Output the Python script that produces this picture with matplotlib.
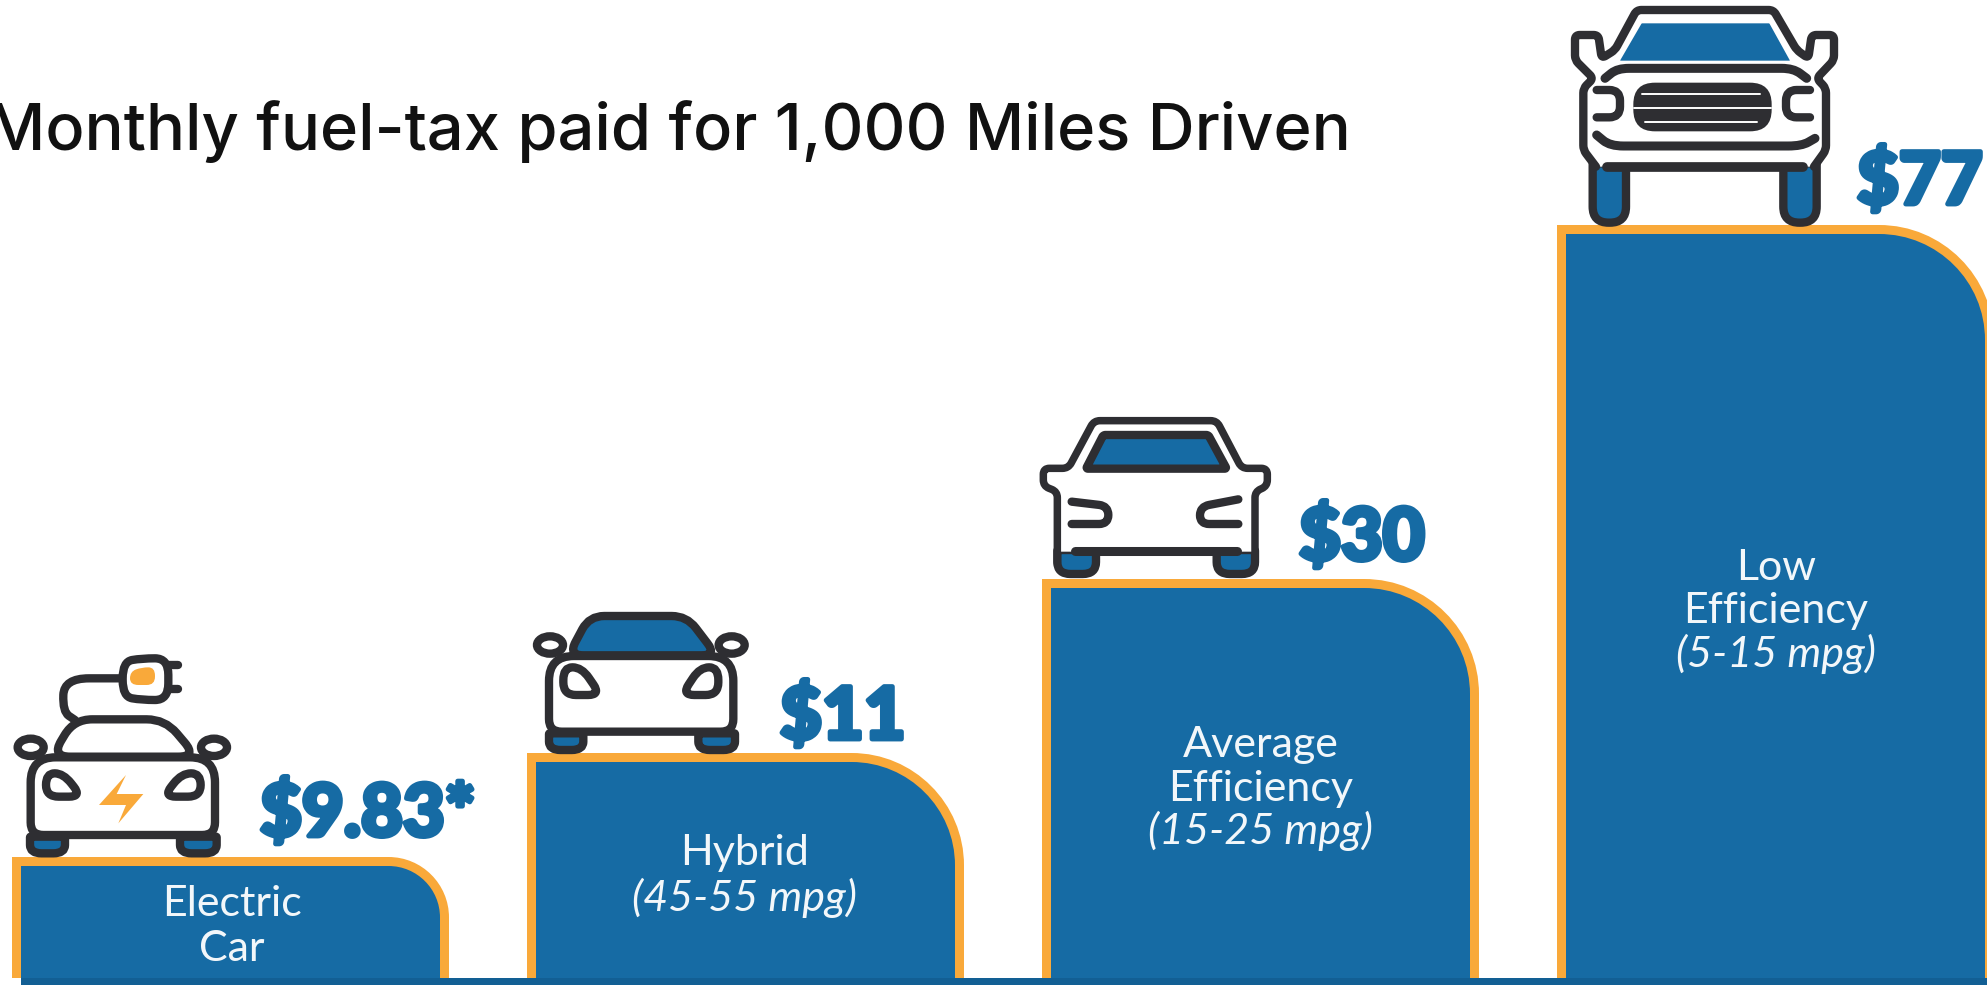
import matplotlib
matplotlib.use("Agg")
import matplotlib.pyplot as plt
import matplotlib.patheffects as pe
from matplotlib.path import Path
from matplotlib.patches import PathPatch, Rectangle, Ellipse
from matplotlib.transforms import Affine2D

# Data
categories = ["Electric Car", "Hybrid", "Average Efficiency", "Low Efficiency"]
value_labels = ["$9.83*", "$11", "$30", "$77"]
bar_heights = [121, 225, 399, 753]  # drawn heights, the picture is not to scale
title = "Monthly fuel-tax paid for 1,000 Miles Driven"

BLUE = "#166BA4"
ORANGE = "#F9A93A"
DARK = "#2E2E32"
W, H = 1987, 985
BASE = 978

fig = plt.figure(figsize=(W / 100, H / 100), dpi=100, facecolor="white")
ax = fig.add_axes([0, 0, 1, 1])
ax.set_xlim(0, W)
ax.set_ylim(BASE - H, BASE)
ax.axis("off")


def rounded_path(pts, r=0, closed=True):
    """Polygon through pts with quadratic rounded corners. A point may be (x, y, r)."""
    n = len(pts)
    xy = [(p[0], p[1]) for p in pts]
    rad = [p[2] if len(p) > 2 else r for p in pts]
    verts, codes = [], []

    def corner(i):
        x, y = xy[i]
        x0, y0 = xy[(i - 1) % n]
        x1, y1 = xy[(i + 1) % n]
        d0 = max(((x0 - x) ** 2 + (y0 - y) ** 2) ** 0.5, 1e-6)
        d1 = max(((x1 - x) ** 2 + (y1 - y) ** 2) ** 0.5, 1e-6)
        r0 = min(rad[i], d0 / 2)
        r1 = min(rad[i], d1 / 2)
        return (x + (x0 - x) * r0 / d0, y + (y0 - y) * r0 / d0), (x, y), (x + (x1 - x) * r1 / d1, y + (y1 - y) * r1 / d1)

    if closed:
        a, b, c = corner(0)
        verts += [a, b, c]
        codes += [Path.MOVETO, Path.CURVE3, Path.CURVE3]
        for i in range(1, n):
            a, b, c = corner(i)
            verts += [a, b, c]
            codes += [Path.LINETO, Path.CURVE3, Path.CURVE3]
        verts.append(verts[0])
        codes.append(Path.CLOSEPOLY)
    else:
        verts.append(xy[0])
        codes.append(Path.MOVETO)
        for i in range(1, n - 1):
            a, b, c = corner(i)
            verts += [a, b, c]
            codes += [Path.LINETO, Path.CURVE3, Path.CURVE3]
        verts.append(xy[-1])
        codes.append(Path.LINETO)
    return Path(verts, codes)


def draw_bar(left, width, height):
    rad = min(115, height / 2)
    for inset, col in [(0, ORANGE), (9, BLUE)]:
        x0, x1 = left + inset, left + width - inset
        top = height - inset
        r = rad - inset
        k = 0.5523 * r
        v = [(x0, 0), (x0, top), (x1 - r, top), (x1 - r + k, top), (x1, top - r + k), (x1, top - r), (x1, 0), (x0, 0)]
        c = [Path.MOVETO, Path.LINETO, Path.LINETO, Path.CURVE4, Path.CURVE4, Path.CURVE4, Path.LINETO, Path.CLOSEPOLY]
        ax.add_patch(PathPatch(Path(v, c), fc=col, ec="none", zorder=2))


class Icon:
    """Draws in the coordinates of a 3x crop whose corner sits at (ox, oy) in the image."""

    def __init__(self, ox, oy):
        self.tr = Affine2D().scale(1 / 3, -1 / 3).translate(ox, BASE - oy) + ax.transData

    def shape(self, pts, r=0, fc="white", ec=DARK, lw=6.0, closed=True, z=4):
        p = PathPatch(rounded_path(pts, r, closed), fc=fc if closed else "none", ec=ec, lw=lw,
                      transform=self.tr, zorder=z, capstyle="round", joinstyle="round")
        ax.add_patch(p)

    def line(self, pts, r=0, lw=6.0, z=5, ec=DARK):
        self.shape(pts, r, closed=False, lw=lw, z=z, ec=ec)

    def oval(self, x, y, w, h, z=3):
        ax.add_patch(Ellipse((x, y), w, h, fc="white", ec=DARK, lw=6.0, transform=self.tr, zorder=z))


def wheel(ic, x0, x1, y0, y1, r=35):
    ic.shape([(x0, y0, 2), (x1, y0, 2), (x1, y1), (x0, y1)], r, fc=BLUE, z=3)


def electric_car(ic):
    ic.line([(225, 240), (188, 215), (192, 115), (370, 115)], 75, z=3)
    ic.shape([(505, 55), (425, 55), (368, 65), (368, 170), (425, 180), (505, 180)], 50, z=5)
    ic.shape([(465, 82), (425, 82), (390, 95), (390, 135), (465, 135)], 25, fc=ORANGE, ec="none", lw=0, z=6)
    ic.line([(505, 75), (535, 75)])
    ic.line([(505, 148), (535, 148)])
    ic.oval(92, 322, 78, 52)
    ic.oval(642, 322, 78, 52)
    ic.shape([(155, 350), (222, 238), (495, 238), (590, 350)], 55, z=3)
    wheel(ic, 90, 195, 590, 640)
    wheel(ic, 540, 650, 590, 640)
    ic.shape([(92, 585, 38), (92, 352, 75), (645, 352, 75), (645, 585, 38)], z=4)
    ic.shape([(138, 400), (190, 400), (245, 470), (138, 470)], 38, z=5)
    ic.shape([(602, 400), (545, 400), (490, 470), (602, 470)], 38, z=5)
    ic.shape([(378, 405), (350, 462), (430, 462), (355, 550), (378, 495), (297, 495)], fc=ORANGE, ec="none", lw=0, z=6)


def hybrid_car(ic):
    ic.oval(150, 165, 78, 52)
    ic.oval(695, 165, 78, 52)
    wheel(ic, 147, 250, 430, 480)
    wheel(ic, 595, 705, 430, 480)
    ic.shape([(205, 196), (268, 78), (560, 78), (650, 196)], 45, fc=BLUE, z=3)
    ic.shape([(147, 425, 38), (147, 198, 75), (700, 198, 75), (700, 425, 38)], z=4)
    ic.shape([(190, 232), (245, 232), (302, 315), (190, 315)], 38, z=5)
    ic.shape([(655, 232), (600, 232), (545, 315), (655, 315)], 38, z=5)


def average_car(ic):
    wheel(ic, 172, 288, 450, 522, 40)
    wheel(ic, 650, 765, 450, 522, 40)
    ic.shape([(172, 455, 2), (172, 275, 8), (130, 258, 10), (130, 205, 8), (205, 205, 20), (282, 62, 35),
              (650, 62, 35), (725, 205, 20), (802, 205, 8), (802, 258, 10), (765, 275, 8), (765, 455, 2)], z=4, ec="none", lw=0)
    ic.line([(172, 490), (172, 275), (130, 258), (130, 205), (205, 205), (282, 62), (650, 62), (725, 205),
             (802, 205), (802, 258), (765, 275), (765, 490)], 18, lw=5.4)
    ic.shape([(258, 206), (310, 105), (625, 105), (680, 206)], 6, fc=BLUE, z=5)
    ic.line([(215, 305), (325, 318), (325, 372), (215, 372)], 28)
    ic.line([(715, 298), (600, 320), (600, 372), (715, 372)], 28)
    ic.line([(225, 453), (710, 453)], lw=6.5)


def low_car(ic):
    wheel(ic, 188, 288, 490, 668, 48)
    wheel(ic, 760, 860, 490, 668, 48)
    outline = [(198, 500), (160, 450), (160, 265), (190, 235), (135, 180), (135, 105), (205, 105), (215, 175), (255, 150),
               (320, 30), (730, 30), (800, 150), (835, 175), (845, 105), (912, 105), (912, 180), (860, 235),
               (888, 265), (888, 450), (852, 500)]
    ic.shape(outline, 10, z=4, ec="none", lw=0)
    ic.line(outline, 14, lw=6.0)
    ic.shape([(335, 70), (718, 70), (780, 182), (270, 182)], 2, fc=BLUE, ec="none", lw=0, z=5)
    ic.line([(225, 235), (262, 205), (790, 205), (830, 235)], 35, lw=6.5)
    ic.shape([(310, 248), (725, 248), (725, 394), (310, 394)], 65, fc=DARK, ec="none", lw=0, z=5)
    for y, x0, x1 in [(283, 335, 690), (325, 312, 722), (366, 345, 680)]:
        ic.line([(x0, y), (x1, y)], lw=1.4, z=6, ec="white")
    ic.line([(200, 270), (270, 270), (270, 352), (200, 352)], 32)
    ic.line([(840, 270), (768, 270), (768, 352), (840, 352)], 32)
    ic.line([(200, 405), (240, 438), (815, 438), (855, 415)], 40, lw=6.5)
    ic.line([(230, 502), (820, 502)], lw=7)


# Bars
slot, bar_w, first = 515, 437, 12
for i, h in enumerate(bar_heights):
    draw_bar(first + slot * i, bar_w, h)
ax.add_patch(Rectangle((21, BASE - H), W, H - BASE, fc="#125F94", ec="none", zorder=3))

# Cars
electric_car(Icon(0, 640))
hybrid_car(Icon(500, 590))
average_car(Icon(1000, 400))
low_car(Icon(1530, 0))

# Value labels
label_x = [260, 780, 1299, 1857]
label_up = [21, 14, 19, 21]
for i, s in enumerate(value_labels):
    ax.text(label_x[i], bar_heights[i] + label_up[i], s, color=BLUE, fontsize=52, family="Lato",
            fontweight="black", ha="left", va="baseline", parse_math=False, zorder=6,
            path_effects=[pe.withStroke(linewidth=3.5, foreground=BLUE)])

# Text inside bars
inner = [
    [("Electric", 904, "normal"), ("Car", 949, "normal")],
    [("Hybrid", 853, "normal"), ("(45-55 mpg)", 898, "italic")],
    [("Average", 745, "normal"), ("Efficiency", 789, "normal"), ("(15-25 mpg)", 831, "italic")],
    [("Low", 568, "normal"), ("Efficiency", 611, "normal"), ("(5-15 mpg)", 654, "italic")],
]
inner_x = [232, 745, 1261, 1776]
for x, lines in zip(inner_x, inner):
    for s, y, st in lines:
        ax.text(x, BASE - y, s, color="#F2F7FA", fontsize=31, family="Lato", style=st,
                ha="center", va="center", zorder=6)

ax.text(-14, BASE - 150, title, color="#111111", fontsize=46.8, family="Inter", fontweight="medium",
        ha="left", va="baseline", zorder=6)

fig.savefig("out.png", dpi=100, facecolor="white")
